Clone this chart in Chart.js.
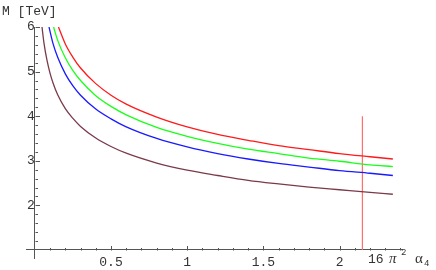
<!DOCTYPE html>
<html>
<head>
<meta charset="utf-8">
<script src="https://cdn.jsdelivr.net/npm/chart.js@4/dist/chart.umd.min.js"></script>
<style>
  body { margin: 0; background: #fff; }
</style>
</head>
<body>
<canvas id="chart" width="436" height="270"></canvas>
<script>
// curves: M [TeV] vs 16 pi^2 alpha4
const alphaRed = [0.155, 0.2, 0.25, 0.3, 0.4, 0.5, 0.6, 0.8, 1.0, 1.2, 1.4, 1.6, 1.8, 2.0, 2.2, 2.35];
const massRed = [6.0, 5.62, 5.32, 5.08, 4.73, 4.47, 4.27, 3.98, 3.76, 3.59, 3.46, 3.34, 3.25, 3.16, 3.09, 3.04];

const alphaGreen = [0.123, 0.15, 0.2, 0.25, 0.3, 0.4, 0.5, 0.6, 0.8, 1.0, 1.2, 1.4, 1.6, 1.8, 2.0, 2.2, 2.35];
const massGreen = [6.0, 5.70, 5.31, 5.02, 4.80, 4.46, 4.22, 4.03, 3.75, 3.55, 3.39, 3.26, 3.16, 3.06, 2.99, 2.91, 2.87];

const alphaBlue = [0.093, 0.12, 0.15, 0.2, 0.25, 0.3, 0.4, 0.5, 0.6, 0.8, 1.0, 1.2, 1.4, 1.6, 1.8, 2.0, 2.2, 2.35];
const massBlue = [6.0, 5.62, 5.32, 4.95, 4.68, 4.47, 4.16, 3.94, 3.76, 3.50, 3.31, 3.16, 3.04, 2.94, 2.86, 2.78, 2.72, 2.67];

const alphaBrown = [0.047, 0.06, 0.08, 0.1, 0.12, 0.15, 0.2, 0.25, 0.3, 0.4, 0.5, 0.6, 0.8, 1.0, 1.2, 1.4, 1.6, 1.8, 2.0, 2.2, 2.35];
const massBrown = [6.0, 5.64, 5.25, 4.96, 4.74, 4.48, 4.17, 3.95, 3.77, 3.51, 3.32, 3.17, 2.95, 2.79, 2.67, 2.56, 2.48, 2.41, 2.35, 2.29, 2.25];

// vertical marker
const boundAlpha = [2.15, 2.15];
const boundMass = [1, 4];

const xTickValues = [0.5, 1, 1.5, 2];
const yTickValues = [2, 3, 4, 5, 6];

const toPoints = (xs, ys) => xs.map((x, i) => ({ x: x, y: ys[i] }));

const curve = (xs, ys, color) => ({
  data: toPoints(xs, ys),
  borderColor: color,
  borderWidth: 1.3,
  pointRadius: 0,
  cubicInterpolationMode: "monotone",
});

const AXIS_COLOR = "#555";
const MONO = "'Liberation Mono', 'DejaVu Sans Mono', monospace";

//draws Mathematica-style inward ticks and the axis titles
const axisDecor = {
  id: "axisDecor",
  afterDraw(chart) {
    const { ctx, scales } = chart;
    const xs = scales.x;
    const ys = scales.y;
    const axisX = Math.round(xs.getPixelForValue(0)) + 0.5;
    const axisY = Math.round(ys.getPixelForValue(1)) + 0.5;
    ctx.save();
    ctx.strokeStyle = AXIS_COLOR;
    ctx.lineWidth = 1;
    ctx.beginPath();
    for (let i = 1; i <= 24; i++) {
      const v = i / 10;
      const px = Math.round(xs.getPixelForValue(v)) + 0.5;
      const len = i % 5 === 0 ? 4.5 : 2.5;
      ctx.moveTo(px, axisY);
      ctx.lineTo(px, axisY - len);
    }
    for (let i = 6; i <= 30; i++) {
      const v = i / 5;
      const py = Math.round(ys.getPixelForValue(v)) + 0.5;
      const len = i % 5 === 0 ? 4.5 : 2.5;
      ctx.moveTo(axisX, py);
      ctx.lineTo(axisX + len, py);
    }
    ctx.stroke();

    ctx.fillStyle = "#333";
    ctx.textBaseline = "alphabetic";
    ctx.textAlign = "left";
    ctx.font = "13px " + MONO;
    ctx.fillText("M [TeV]", 2, 15);

    // x title: 16 π² α₄
    ctx.fillText("16", 368, 263);
    ctx.font = "italic 15px 'Liberation Serif', serif";
    ctx.fillText("π", 389, 263);
    ctx.font = "9px " + MONO;
    ctx.fillText("2", 401, 255);
    ctx.font = "15px 'Liberation Serif', serif";
    ctx.fillText("α", 415, 263);
    ctx.font = "9px " + MONO;
    ctx.fillText("4", 424, 266);
    ctx.restore();
  },
};

const config = {
  type: "line",
  data: {
    datasets: [
      curve(alphaRed, massRed, "#ff1a1a"),
      curve(alphaGreen, massGreen, "#1aff1a"),
      curve(alphaBlue, massBlue, "#1a1aff"),
      curve(alphaBrown, massBrown, "#7a3a4a"),
      {
        data: toPoints(boundAlpha, boundMass),
        borderColor: "#ff6e6e",
        borderWidth: 1.2,
        pointRadius: 0,
      },
    ],
  },
  options: {
    responsive: false,
    animation: false,
    layout: {
      padding: { left: 26, right: 34, top: 27, bottom: 12 },
    },
    plugins: {
      legend: { display: false },
      tooltip: { enabled: false },
    },
    scales: {
      x: {
        type: "linear",
        min: -0.058,
        max: 2.41,
        position: { y: 1 },
        afterBuildTicks: (scale) => {
          scale.ticks = xTickValues.map((v) => ({ value: v }));
        },
        grid: { display: false, drawTicks: false },
        border: { display: true, color: AXIS_COLOR, width: 1 },
        ticks: {
          padding: 5,
          color: "#333",
          font: { family: MONO, size: 13 },
          callback: (val) => String(val),
          maxRotation: 0,
        },
      },
      y: {
        type: "linear",
        min: 0.82,
        max: 6,
        position: { x: 0 },
        afterBuildTicks: (scale) => {
          scale.ticks = yTickValues.map((v) => ({ value: v }));
        },
        grid: { display: false, drawTicks: false },
        border: { display: true, color: AXIS_COLOR, width: 1 },
        ticks: {
          padding: 4,
          color: "#333",
          font: { family: MONO, size: 13 },
          callback: (val) => String(val),
        },
      },
    },
  },
  plugins: [axisDecor],
};

new Chart(document.getElementById("chart"), config);
</script>
</body>
</html>
